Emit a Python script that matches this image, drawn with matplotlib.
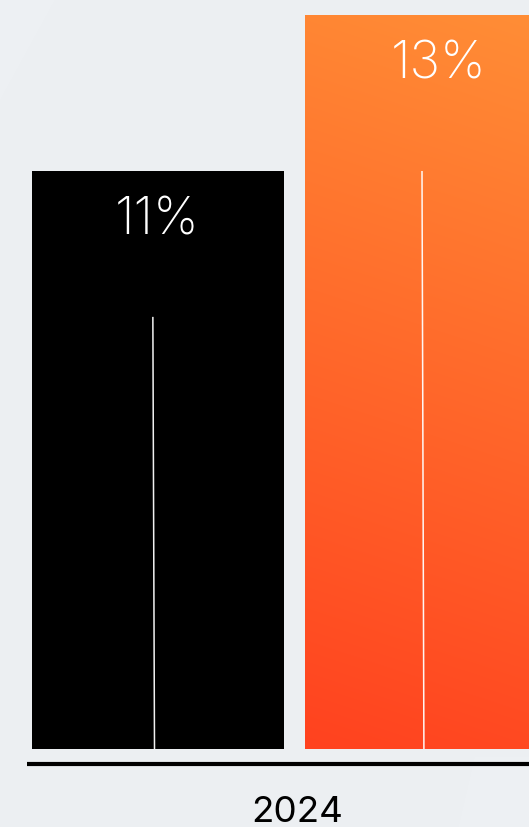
import numpy as np
import matplotlib
matplotlib.use("Agg")
import matplotlib.pyplot as plt
from matplotlib.patches import Polygon

# ---- data ----
categories = ["A", "B"]
values = [11, 13]
value_labels = ["11%", "13%"]
marker_tops = [9.13, 11.0]
year_label = "2024"

# ---- style / layout ----
W, H, DPI = 529, 828, 100
bg = "#ECEFF2"
base = 3.59
bar_w = 0.923
FONT = ["Inter", "Lato", "DejaVu Sans"]

fig = plt.figure(figsize=(W / DPI, H / DPI), dpi=DPI, facecolor=bg)
ax = fig.add_axes([0, 0, 1, 1])
ax.set_facecolor(bg)
ax.set_xlim(-0.579, 1.359)
ax.set_ylim(2.59, 13.205)
ax.axis("off")

# subtle background shapes
ax.add_patch(Polygon([[-0.579, 13.205], [-0.375, 13.205], [-0.579, 11.9]],
                     closed=True, facecolor="#EDF0F3", edgecolor="none", zorder=0))
ax.add_patch(Polygon([[1.10, 2.59], [1.16, 3.5], [1.359, 3.5], [1.359, 2.59]],
                     closed=True, facecolor="#EDF0F3", edgecolor="none", zorder=0))

x = np.arange(len(categories))
bars = ax.bar(x, np.array(values) - base, bottom=base, width=bar_w,
              color=["black", "none"], edgecolor="none", zorder=2)

# gradient for orange bar
b = bars[1]
x0, y0 = b.get_x(), b.get_y()
x1, y1 = x0 + b.get_width(), y0 + b.get_height()
ny, nx = 200, 60
yy, xx = np.mgrid[0:1:ny * 1j, 0:1:nx * 1j]
t = np.clip(yy * 0.9 + xx * 0.1, 0, 1)  # 0 bottom, 1 top
top_c = np.array([255, 142, 54]) / 255
bot_c = np.array([255, 66, 31]) / 255
img = bot_c[None, None, :] * (1 - t[..., None]) + top_c[None, None, :] * t[..., None]
im = ax.imshow(img, extent=[x0, x1, y0, y1], origin="lower", aspect="auto",
               interpolation="bilinear", zorder=2)
im.set_clip_path(b)
ax.set_xlim(-0.579, 1.359)
ax.set_ylim(2.59, 13.205)

# thin white marker lines
line_dx = [(-0.019, -0.013), (-0.033, -0.026)]
for xi, mt, (dt, db) in zip(x, marker_tops, line_dx):
    ax.plot([xi + dt, xi + db], [mt, base], color="white", lw=1.1,
            alpha=0.95, solid_capstyle="butt", zorder=3)

# value labels
label_off = [-0.004, 0.028]
for xi, v, lab, off in zip(x, values, value_labels, label_off):
    ax.text(xi + off, v - 0.625, lab, color="white", fontsize=37,
            family=FONT, fontweight="light",
            ha="center", va="center", zorder=4)

# baseline
ax.plot([-0.48, 1.359], [base - 0.195, base - 0.195], color="black", lw=3,
        solid_capstyle="butt", zorder=3)

# x label
ax.text(0.5 + 0.009, base - 0.80, year_label, color="black", fontsize=26.5,
        family=FONT, ha="center", va="center", zorder=4)

fig.savefig("out.png", dpi=DPI, facecolor=bg)
